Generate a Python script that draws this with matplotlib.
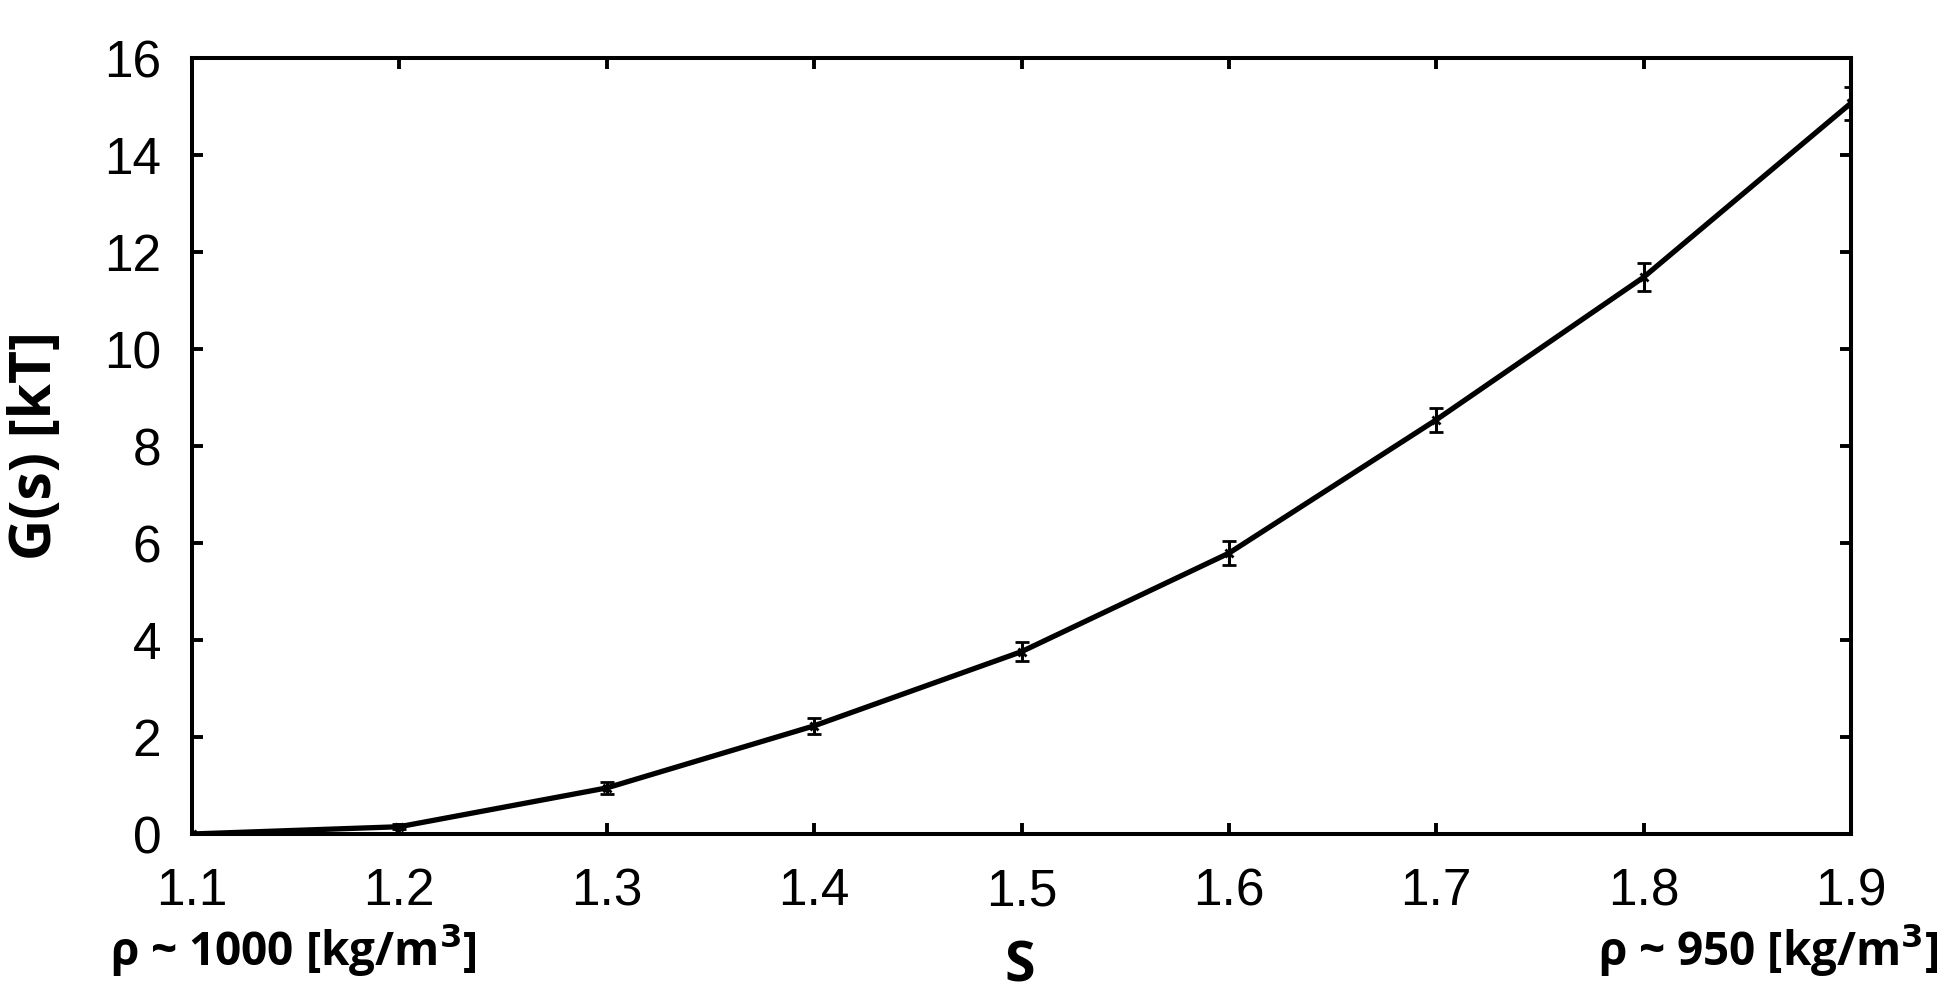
import numpy as np
import matplotlib
matplotlib.use("Agg")
import matplotlib.pyplot as plt

# order parameter s and free energy G(s) in kT
s_vals = [1.1, 1.2, 1.3, 1.4, 1.5, 1.6, 1.7, 1.8, 1.9]
g_vals = [0.0, 0.15, 0.95, 2.23, 3.76, 5.79, 8.54, 11.48, 15.07]
g_err = [0.02, 0.05, 0.13, 0.16, 0.20, 0.25, 0.25, 0.29, 0.34]

x_ticks = [1.1, 1.2, 1.3, 1.4, 1.5, 1.6, 1.7, 1.8, 1.9]
y_ticks = [0, 2, 4, 6, 8, 10, 12, 14, 16]

fig = plt.figure(figsize=(19.44, 10.06), dpi=100)
ax = fig.add_axes([192 / 1944, 1 - 834 / 1006, (1851 - 192) / 1944, (834 - 58) / 1006])

ax.errorbar(s_vals, g_vals, yerr=g_err, color='black', lw=3.8,
            marker='x', ms=6, mew=2,
            ecolor='black', elinewidth=2.2, capsize=5, capthick=2.2)

ax.set_xlim(1.1, 1.9)
ax.set_ylim(0, 16)
ax.set_xticks(x_ticks)
ax.set_yticks(y_ticks)
ax.set_xticklabels([f"{v:.1f}" for v in x_ticks], family='Liberation Sans', fontsize=37)
ax.set_yticklabels([str(v) for v in y_ticks], family='Liberation Sans', fontsize=37)
ax.tick_params(direction='in', length=8, width=2.8, top=True, right=True)
ax.tick_params(axis='x', pad=24)
ax.tick_params(axis='y', pad=22)
for sp in ax.spines.values():
    sp.set_linewidth(2.9)

ax.set_ylabel("G(s) [kT]", family='Open Sans', fontweight='bold', fontsize=41, labelpad=28)
fig.text(1020 / 1944, 1 - 967 / 1006, "S", family='Open Sans', fontweight='bold',
         fontsize=40, ha='center', va='center')
fig.text(110 / 1944, 1 - 949 / 1006, r"ρ ~ 1000 [kg/m$^\mathbf{3}$]", family='Open Sans',
         fontweight='bold', fontsize=33, ha='left', va='center')
fig.text(1938 / 1944, 1 - 949 / 1006, r"ρ ~ 950 [kg/m$^\mathbf{3}$]", family='Open Sans',
         fontweight='bold', fontsize=33, ha='right', va='center')

fig.savefig("out.png", dpi=100)
